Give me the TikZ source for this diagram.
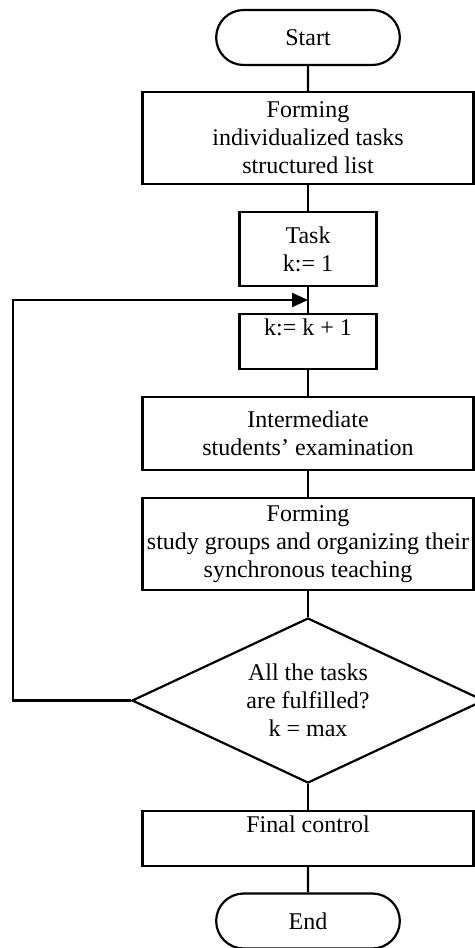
\documentclass[tikz,border=0pt]{standalone}
\usepackage{fontspec}
\setmainfont{Liberation Serif}
\usetikzlibrary{shapes.geometric,shapes.misc,arrows.meta}

\begin{document}
\begin{tikzpicture}[x=0.5pt,y=-0.5pt,line width=1.1pt,
  font=\fontsize{12}{14}\selectfont,
  term/.style={draw,rounded rectangle,minimum width=98.5pt,minimum height=27.5pt},
  proc/.style={draw,rectangle,align=center,inner sep=0pt},
  wide/.style={proc,minimum width=165.5pt},
  narrow/.style={proc,minimum width=68.5pt},
  decide/.style={draw,diamond,aspect=2.13,inner sep=0pt,align=center,
    minimum width=176pt,minimum height=82.5pt}]
\useasboundingbox (0,0) rectangle (475,948);
\node[term] (start) at (308,37.5) {Start};
\node[wide,minimum height=46pt] (list) at (308,138) {Forming\\individualized tasks\\structured list};
\node[narrow,minimum height=37pt] (task) at (308,249) {Task\\k:= 1};
\node[narrow,minimum height=27.5pt] (inc) at (308,341.5) {k:= k + 1\\\mbox{}};
\node[wide,minimum height=36.5pt] (exam) at (308,433.5) {Intermediate\\students’ examination};
\node[wide,minimum height=46pt] (groups) at (308,544) {Forming\\study groups and organizing their\\synchronous teaching};
\node[decide] (check) at (308,700.5) {All the tasks\\are fulfilled?\\k = max};
\node[wide,minimum height=27.5pt] (final) at (308,838.5) {Final control\\\mbox{}};
\node[term] (end) at (308,921) {End};
\coordinate (loopin) at (308,300);
\draw (start) -- (list);
\draw (list) -- (task);
\draw (task) -- (inc);
\draw (inc) -- (exam);
\draw (exam) -- (groups);
\draw (groups) -- (check);
\draw (check) -- (final);
\draw (final) -- (end);
\draw[-{Triangle[length=8pt,width=7pt]}] (check.west) -- (13,700.5) -- (13,300) -- (loopin);
\end{tikzpicture}
\end{document}
